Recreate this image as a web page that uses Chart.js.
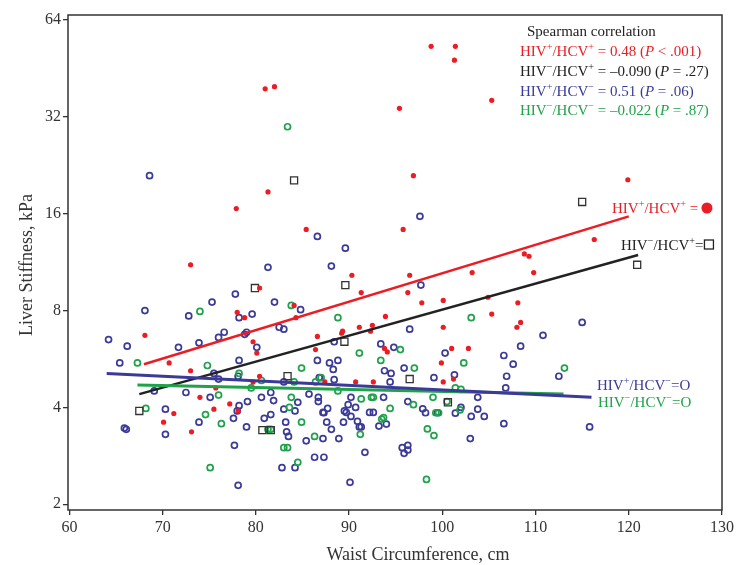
<!DOCTYPE html>
<html>
<head>
<meta charset="utf-8">
<script src="https://cdn.jsdelivr.net/npm/chart.js@4"></script>
<style>
  body { margin: 0; background: #fff; }
  #wrap { width: 737px; height: 565px; }
</style>
</head>
<body>
<div id="wrap"><canvas id="chart"></canvas></div>
<script>
// Waist circumference (cm) vs liver stiffness (kPa)
const posPosX = [81.0, 82.0, 81.3, 77.9, 85.4, 73.0, 90.3, 98.8, 101.4, 101.3, 95.4, 105.3, 96.9, 119.9, 95.8, 116.3, 96.5, 103.2, 108.8, 109.3, 109.8, 68.1, 70.7, 73.0, 78.0, 78.8, 80.4, 79.7, 80.1, 80.4, 75.7, 74.0, 77.2, 75.5, 78.1, 71.2, 70.1, 73.1, 84.3, 84.1, 86.6, 86.4, 89.2, 91.3, 91.1, 90.7, 92.6, 87.4, 96.3, 97.8, 100.1, 93.9, 100.1, 105.3, 108.1, 108.4, 108.0, 93.8, 94.1, 101.0, 102.8, 99.9, 101.2, 100.1, 92.5, 92.3, 89.3, 104.9, 79.7];
const posPosY = [39.1, 39.7, 18.7, 16.6, 14.3, 11.1, 10.3, 53, 53, 48, 34, 36, 21, 20.4, 14.3, 13.3, 10.3, 10.5, 12.0, 11.8, 10.5, 6.7, 5.5, 5.2, 7.9, 7.6, 9.4, 6.4, 5.9, 5.0, 4.6, 4.3, 4.1, 3.95, 3.9, 3.83, 3.6, 3.36, 7.6, 8.3, 6.65, 6.05, 6.8, 9.1, 7.1, 4.8, 4.8, 4.8, 9.1, 8.46, 8.6, 7.67, 7.1, 7.8, 8.46, 7.35, 7.1, 6.1, 5.95, 6.1, 6.1, 5.5, 4.9, 4.8, 7.2, 6.9, 6.9, 8.8, 4.8];

const negPosX = [84.1, 115.0, 120.9, 79.9, 89.6, 89.5, 83.4, 67.5, 80.7, 81.6, 96.5, 100.6];
const negPosY = [20.3, 17.4, 11.1, 9.4, 9.6, 6.4, 5.0, 3.9, 3.4, 3.4, 4.9, 4.15];

const posNegX = [68.6, 86.6, 89.6, 81.3, 88.1, 97.6, 77.8, 75.3, 64.2, 65.4, 66.2, 65.9, 66.1, 68.1, 69.1, 70.3, 70.3, 71.7, 72.5, 72.8, 73.9, 73.9, 75.1, 76.0, 76.6, 77.6, 77.7, 78.0, 78.1, 78.2, 78.2, 78.2, 78.1, 79.0, 79.1, 79.6, 80.1, 80.6, 80.9, 81.6, 81.6, 82.0, 82.5, 83.0, 82.8, 83.0, 83.2, 83.3, 83.5, 84.2, 84.2, 84.5, 84.8, 85.4, 85.7, 86.3, 86.6, 86.7, 86.8, 87.2, 87.3, 87.2, 87.6, 87.7, 87.9, 88.1, 88.3, 88.4, 88.8, 88.9, 89.4, 89.5, 89.9, 90.1, 90.2, 90.2, 90.7, 90.9, 91.1, 91.7, 92.2, 88.4, 75.5, 79.0, 76.0, 83.0, 81.9, 86.7, 87.3, 78.8, 92.6, 93.7, 93.2, 94.0, 93.8, 94.5, 95.9, 94.4, 95.7, 96.3, 96.3, 95.9, 96.3, 97.9, 98.2, 99.1, 101.4, 102.0, 97.7, 96.5, 93.4, 94.8, 100.3, 101.3, 106.6, 107.6, 108.4, 110.8, 115.0, 112.5, 106.9, 106.8, 99.5, 103.1, 103.8, 104.5, 106.6, 115.8, 103.0, 103.8, 89.7, 91.3];
const posNegY = [21, 13.6, 12.5, 10.9, 11.0, 15.7, 9.0, 8.5, 6.5, 5.5, 6.2, 3.45, 3.42, 8.0, 4.5, 3.95, 3.3, 6.15, 4.45, 7.7, 6.35, 3.6, 4.3, 6.6, 6.85, 3.7, 3.05, 3.9, 2.29, 5.6, 7.6, 4.05, 5.0, 3.48, 4.17, 7.8, 6.15, 4.3, 3.7, 3.8, 4.45, 8.5, 7.1, 7.0, 2.6, 3.95, 3.6, 3.36, 3.25, 2.6, 3.9, 4.15, 8.05, 3.15, 4.4, 2.8, 5.6, 4.17, 4.95, 3.2, 2.8, 3.86, 3.6, 3.97, 5.5, 3.42, 5.25, 6.4, 5.6, 3.2, 3.6, 3.9, 4.08, 2.34, 3.75, 4.3, 4.0, 3.62, 3.48, 2.9, 3.86, 4.88, 5.1, 6.85, 4.9, 4.8, 4.2, 4.3, 3.85, 6.75, 3.86, 4.3, 3.5, 3.55, 5.2, 5.1, 5.3, 4.8, 3.0, 3.05, 2.95, 2.88, 4.17, 3.96, 3.85, 4.95, 3.84, 4.0, 9.6, 7.0, 6.3, 6.15, 5.9, 5.05, 5.8, 5.45, 6.2, 6.7, 7.35, 5.0, 5.0, 4.6, 3.85, 3.75, 3.95, 3.75, 3.56, 3.48, 3.2, 4.3, 3.86, 3.48];

const negNegX = [83.4, 67.3, 68.2, 74.0, 74.8, 74.6, 76.0, 76.3, 75.1, 78.2, 83.8, 88.8, 84.9, 84.1, 83.8, 83.6, 84.9, 83.0, 83.4, 84.5, 86.3, 81.3, 81.6, 79.5, 80.6, 86.4, 91.1, 91.2, 91.3, 88.8, 103.1, 95.5, 93.4, 97.0, 102.3, 113.1, 101.4, 102.0, 96.9, 99.0, 100.5, 101.9, 94.4, 99.3, 99.6, 93.7, 93.5, 98.4, 99.1, 98.3, 92.4, 92.6, 87.0];
const negNegY = [29.8, 5.5, 3.97, 7.95, 5.4, 3.8, 4.37, 3.56, 2.6, 5.1, 8.3, 7.6, 5.3, 4.8, 4.3, 4.0, 3.6, 3.0, 3.0, 2.7, 3.25, 3.42, 3.42, 4.6, 4.85, 4.8, 5.9, 3.3, 4.25, 4.5, 7.6, 6.05, 5.6, 5.3, 5.5, 5.3, 4.6, 4.55, 4.08, 4.3, 4.17, 3.93, 3.97, 3.85, 3.85, 3.72, 3.68, 3.43, 3.27, 2.39, 4.3, 4.3, 4.95];

// regression line end points [x0, x1], [y0, y1]
const fitPosPosX = [68, 120], fitPosPosY = [5.45, 15.7];
const fitNegPosX = [67.5, 121], fitNegPosY = [4.4, 11.9];
const fitPosNegX = [64, 116], fitPosNegY = [5.1, 4.3];
const fitNegNegX = [67.3, 113], fitNegNegY = [4.7, 4.4];

const xTicks = [60, 70, 80, 90, 100, 110, 120, 130];
const yTicks = [2, 4, 8, 16, 32, 64];

const RED = '#ec1c24', BLACK = '#222222', BLUE = '#3b3a98', GREEN = '#1fa24a';
const SERIF = '"Liberation Serif", "DejaVu Serif", serif';

const pts = (xs, ys) => xs.map((x, i) => ({ x: x, y: ys[i] }));

// draws text with ^x superscripts and ~italic~ parts
function richText(ctx, str, x, y, size, color) {
    const parts = [];
    let italic = false;
    for (let i = 0; i < str.length; i++) {
        const c = str[i];
        if (c === '~') { italic = !italic; continue; }
        if (c === '^') { parts.push({ t: str[i + 1], sup: true, it: italic }); i++; continue; }
        const last = parts[parts.length - 1];
        if (last && !last.sup && last.it === italic) last.t += c;
        else parts.push({ t: c, sup: false, it: italic });
    }
    ctx.save();
    ctx.fillStyle = color;
    ctx.textBaseline = 'alphabetic';
    ctx.textAlign = 'left';
    let cx = x;
    parts.forEach(p => {
        const fs = p.sup ? size * 0.68 : size;
        ctx.font = (p.it ? 'italic ' : '') + fs + 'px ' + SERIF;
        ctx.fillText(p.t, cx, p.sup ? y - size * 0.38 : y);
        cx += ctx.measureText(p.t).width;
    });
    ctx.restore();
    return cx;
}

const extras = {
    id: 'extras',
    afterDraw(chart) {
        const ctx = chart.ctx;
        const a = chart.chartArea;
        ctx.save();
        ctx.strokeStyle = '#333';
        ctx.lineWidth = 1.5;
        ctx.strokeRect(a.left, a.top, a.right - a.left, a.bottom - a.top);
        ctx.restore();

        // legend box text
        richText(ctx, 'Spearman correlation', 527, 36, 15, BLACK);
        richText(ctx, 'HIV^+/HCV^+ = 0.48 (~P~ < .001)', 520, 56, 15, RED);
        richText(ctx, 'HIV^−/HCV^+ = –0.090 (~P~ = .27)', 520, 76, 15, BLACK);
        richText(ctx, 'HIV^+/HCV^− = 0.51 (~P~ = .06)', 520, 96, 15, BLUE);
        richText(ctx, 'HIV^−/HCV^− = –0.022 (~P~ = .87)', 520, 115, 15, GREEN);

        // line labels
        let e = richText(ctx, 'HIV^+/HCV^+ = ', 612, 213, 15, RED);
        ctx.save();
        ctx.fillStyle = RED;
        ctx.beginPath();
        ctx.arc(e + 5, 208, 5.5, 0, Math.PI * 2);
        ctx.fill();
        ctx.restore();

        e = richText(ctx, 'HIV^−/HCV^+=', 621, 250, 15, BLACK);
        ctx.save();
        ctx.strokeStyle = BLACK;
        ctx.lineWidth = 1.3;
        ctx.strokeRect(e + 1, 240, 9, 9);
        ctx.restore();

        richText(ctx, 'HIV^+/HCV^−=O', 597, 390, 15, BLUE);
        richText(ctx, 'HIV^−/HCV^−=O', 598, 407, 15, GREEN);

        // axis titles
        ctx.save();
        ctx.fillStyle = '#333';
        ctx.font = '18px ' + SERIF;
        ctx.textAlign = 'center';
        ctx.textBaseline = 'middle';
        ctx.fillText('Waist Circumference, cm', 418, 555);
        ctx.translate(27, 265);
        ctx.rotate(-Math.PI / 2);
        ctx.fillText('Liver Stiffness, kPa', 0, 0);
        ctx.restore();
    }
};

const scatterSet = (data, color, style, fill, r, bw, order) => ({
    type: 'scatter',
    data: data,
    pointStyle: style,
    pointRadius: r,
    pointBorderWidth: bw,
    pointBorderColor: color,
    pointBackgroundColor: fill ? color : 'rgba(0,0,0,0)',
    showLine: false,
    order: order
});

const lineSet = (xs, ys, color, w) => ({
    type: 'line',
    data: pts(xs, ys),
    borderColor: color,
    borderWidth: w,
    pointRadius: 0,
    fill: false,
    order: 0
});

new Chart(document.getElementById('chart'), {
    type: 'scatter',
    data: {
        datasets: [
            lineSet(fitPosNegX, fitPosNegY, BLUE, 3),
            lineSet(fitNegNegX, fitNegNegY, GREEN, 3),
            lineSet(fitPosPosX, fitPosPosY, RED, 2.5),
            lineSet(fitNegPosX, fitNegPosY, BLACK, 2.5),
            scatterSet(pts(posPosX, posPosY), RED, 'circle', true, 2.6, 0, 1),
            scatterSet(pts(negPosX, negPosY), '#333', 'rect', false, 5, 1.3, 2),
            scatterSet(pts(negNegX, negNegY), GREEN, 'circle', false, 3, 1.7, 3),
            scatterSet(pts(posNegX, posNegY), BLUE, 'circle', false, 3, 1.7, 4)
        ]
    },
    options: {
        responsive: true,
        maintainAspectRatio: false,
        animation: false,
        layout: { padding: { top: 15, right: 13, left: 0, bottom: 0 } },
        plugins: { legend: { display: false }, tooltip: { enabled: false } },
        scales: {
            x: {
                type: 'linear',
                min: 59.85,
                max: 130,
                afterFit(scale) { scale.height = 55; },
                afterBuildTicks(scale) { scale.ticks = xTicks.map(v => ({ value: v })); },
                border: { display: false },
                grid: { drawOnChartArea: false, drawTicks: true, tickLength: 5, color: '#333', lineWidth: 1.3 },
                ticks: { padding: 3, color: '#333', font: { family: SERIF, size: 16 }, callback: v => String(v) }
            },
            y: {
                type: 'logarithmic',
                min: 1.92,
                max: 66.3,
                afterFit(scale) { scale.width = 68; },
                afterBuildTicks(scale) { scale.ticks = yTicks.map(v => ({ value: v })); },
                border: { display: false },
                grid: { drawOnChartArea: false, drawTicks: true, tickLength: 5, color: '#333', lineWidth: 1.3 },
                ticks: { padding: 2, color: '#333', font: { family: SERIF, size: 16 }, callback: v => String(v) }
            }
        }
    },
    plugins: [extras]
});
</script>
</body>
</html>
